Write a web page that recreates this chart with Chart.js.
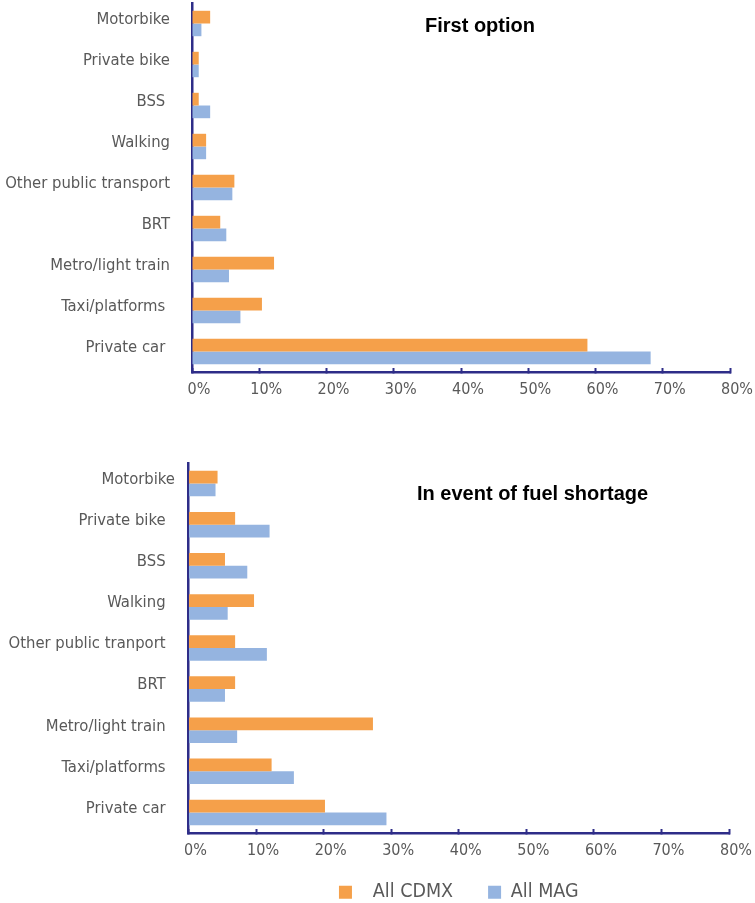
<!DOCTYPE html>
<html>
<head>
<meta charset="utf-8">
<script src="https://cdn.jsdelivr.net/npm/chart.js@4.4.1/dist/chart.umd.min.js"></script>
<style>
  html, body { margin: 0; padding: 0; background: #ffffff; overflow: hidden; width: 755px; height: 903px; }
  canvas { position: absolute; left: 0; }
  #firstOption { top: 0; }
  #fuelShortage { top: 440px; }
</style>
</head>
<body>
<canvas id="firstOption" width="755" height="400"></canvas>
<canvas id="fuelShortage" width="755" height="472"></canvas>
<script>
// Transport modes (top to bottom)
const firstModes = ['Motorbike', 'Private bike', 'BSS ', 'Walking', 'Other public transport', 'BRT', 'Metro/light train', 'Taxi/platforms ', 'Private car '];
const shortageModes = ['Motorbike', 'Private bike  ', 'BSS  ', 'Walking  ', 'Other public tranport  ', 'BRT  ', 'Metro/light train  ', 'Taxi/platforms  ', 'Private car  '];

// Series names
const seriesNames = ['  All CDMX', 'All MAG'];

// Share of respondents (%) - first option
const firstCdmx = [2.7, 1.0, 1.0, 2.1, 6.3, 4.2, 12.2, 10.4, 58.8];
const firstMag  = [1.4, 1.0, 2.7, 2.1, 6.0, 5.1, 5.5, 7.2, 68.2];

// Share of respondents (%) - in event of fuel shortage
const shortageCdmx = [4.3, 6.9, 5.4, 9.7, 6.9, 6.9, 27.3, 12.3, 20.2];
const shortageMag  = [4.0, 12.0, 8.7, 5.8, 11.6, 5.4, 7.2, 15.6, 29.3];

// Percentage axis ticks
const percentTicks = [0, 10, 20, 30, 40, 50, 60, 70, 80];

const ORANGE = '#F5A04A';
const BLUE = '#95B4E0';
const NAVY = '#2E2D88';
const GRAY = '#595959';
const LABEL_FONT = "'DejaVu Sans Condensed', 'DejaVu Sans', sans-serif";
const TITLE_FONT = "'Liberation Sans', Arial, sans-serif";

// Draws the panel heading inside the plot
const panelTitlePlugin = {
  id: 'panelTitle',
  afterDraw(chart, args, opts) {
    if (!opts || !opts.text) return;
    const ctx = chart.ctx;
    ctx.save();
    ctx.font = 'bold 20px ' + TITLE_FONT;
    ctx.fillStyle = '#000000';
    ctx.textAlign = 'left';
    ctx.textBaseline = 'alphabetic';
    ctx.fillText(opts.text, opts.x, opts.y);
    ctx.restore();
  }
};

function makePanel(canvasId, modes, cdmx, mag, cfg) {
  return new Chart(document.getElementById(canvasId), {
    type: 'bar',
    data: {
      labels: modes,
      datasets: [
        { label: seriesNames[0], data: cdmx, backgroundColor: ORANGE, borderWidth: 0 },
        { label: seriesNames[1], data: mag, backgroundColor: BLUE, borderWidth: 0 }
      ]
    },
    options: {
      indexAxis: 'y',
      responsive: false,
      animation: false,
      devicePixelRatio: 1,
      datasets: { bar: { categoryPercentage: 0.62, barPercentage: 1.0 } },
      layout: { padding: { left: 0, right: cfg.padRight, top: cfg.padTop, bottom: 0 } },
      scales: {
        x: {
          type: 'linear',
          min: percentTicks[0],
          max: percentTicks[percentTicks.length - 1],
          afterBuildTicks: s => { s.ticks = percentTicks.map(v => ({ value: v })); },
          grid: { display: true, drawOnChartArea: false, drawTicks: true, tickLength: -4, tickWidth: 2, tickColor: NAVY },
          border: { display: true, color: NAVY, width: 2.5 },
          ticks: {
            color: GRAY,
            font: { family: LABEL_FONT, size: 16 },
            // labels sit below the axis line, 17.5px from it (centre)
            mirror: true,
            padding: -27.1,
            labelOffset: 7,
            maxRotation: 0,
            autoSkip: false,
            callback: v => v + '%'
          },
          afterFit: s => { s.height = cfg.xAxisHeight; s.paddingLeft = 0; s.paddingRight = 0; }
        },
        y: {
          grid: { display: false, drawTicks: false },
          border: { display: true, color: NAVY, width: 2.5 },
          ticks: {
            color: GRAY,
            font: { family: LABEL_FONT, size: 16.5 },
            padding: cfg.labelGap,
            labelOffset: -4,
            autoSkip: false
          },
          afterFit: s => { s.width = cfg.yAxisWidth; s.paddingTop = 0; s.paddingBottom = 0; }
        }
      },
      plugins: {
        legend: cfg.legend ? {
          display: true,
          position: 'bottom',
          fullSize: false,
          align: 'center',
          labels: {
            boxWidth: 13,
            boxHeight: 13,
            padding: 35,
            color: GRAY,
            font: { family: LABEL_FONT, size: 19.5 }
          }
        } : { display: false },
        tooltip: { enabled: false },
        panelTitle: { text: cfg.title, x: cfg.titleX, y: cfg.titleY }
      }
    },
    plugins: [panelTitlePlugin]
  });
}

makePanel('firstOption', firstModes, firstCdmx, firstMag, {
  title: 'First option', titleX: 425, titleY: 32,
  padTop: 3, padRight: 25, xAxisHeight: 28, yAxisWidth: 192, labelGap: 22, legend: false
});

makePanel('fuelShortage', shortageModes, shortageCdmx, shortageMag, {
  title: 'In event of fuel shortage', titleX: 417, titleY: 60,
  padTop: 23, padRight: 26, xAxisHeight: 14.5, yAxisWidth: 188.5, labelGap: 13.5, legend: true
});
</script>
</body>
</html>
